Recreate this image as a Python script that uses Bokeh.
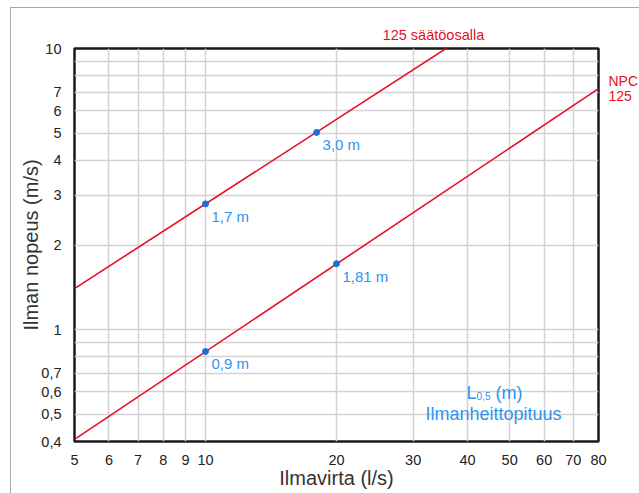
from bokeh.plotting import figure
from bokeh.models import FixedTicker, Label, LogAxis
from bokeh.core.properties import value
from bokeh.embed import file_html
from bokeh.resources import INLINE

# ---- data ----
x_ticks = [5, 6, 7, 8, 9, 10, 20, 30, 40, 50, 60, 70, 80]
x_tick_labels = ["5", "6", "7", "8", "9", "10", "20", "30", "40", "50", "60", "70", "80"]
y_ticks = [0.4, 0.5, 0.6, 0.7, 1, 2, 3, 4, 5, 6, 7, 10]
y_tick_labels = ["0,4", "0,5", "0,6", "0,7", "1", "2", "3", "4", "5", "6", "7", "10"]
y_grid = [0.4, 0.5, 0.6, 0.7, 0.8, 0.9, 1, 2, 3, 4, 5, 6, 7, 8, 9, 10]

upper_q = [5, 40]          # 125 säätöosalla
upper_v = [1.4, 11.2]
lower_q = [5, 80]          # NPC 125
lower_v = [0.407, 7.2]

upper_pts_q = [10, 18]
upper_pts_v = [2.8, 5.03]
upper_pts_lbl = ["1,7 m", "3,0 m"]
lower_pts_q = [10, 20]
lower_pts_v = [0.836, 1.716]
lower_pts_lbl = ["0,9 m", "1,81 m"]

upper_name = "125 säätöosalla"
upper_name_q = 33.4
lower_name = ["NPC", "125"]
lower_name_v = [7.68, 6.76]

RED = "#e50f25"
BLUE_T = "#2f93ee"
BLUE_P = "#1c6ed6"
FONT = "Liberation Sans"

p = figure(frame_width=524, frame_height=393,
           x_axis_type="log", y_axis_type="log",
           x_range=(5, 80), y_range=(0.4, 10),
           output_backend="svg", toolbar_location=None,
           min_border_left=63, min_border_right=37,
           min_border_top=40, min_border_bottom=52)
p.styles = {"border": "1px solid #a8a8a8", "border-bottom": "none",
            "margin-left": "10px", "margin-top": "7px"}

p.outline_line_color = "#1a1a1a"
p.outline_line_width = 2.5
p.background_fill_color = "white"
p.border_fill_color = "white"

bottom_ax = p.below[0]
left_ax = p.left[0]

bottom_ax.ticker = FixedTicker(ticks=x_ticks)
left_ax.ticker = FixedTicker(ticks=y_ticks)
bottom_ax.major_label_overrides = {t: l for t, l in zip(x_ticks, x_tick_labels)}
left_ax.major_label_overrides = {t: l for t, l in zip(y_ticks, y_tick_labels)}
p.xgrid.ticker = FixedTicker(ticks=x_ticks)
p.ygrid.ticker = FixedTicker(ticks=y_grid)
for g in (p.xgrid, p.ygrid):
    g.grid_line_color = "#d2d2d2"
    g.grid_line_width = 1.5

# line names as labels of extra (tick-less) axes outside the frame
top_ax = LogAxis(ticker=FixedTicker(ticks=[upper_name_q]),
                 major_label_overrides={upper_name_q: upper_name})
right_ax = LogAxis(ticker=FixedTicker(ticks=lower_name_v),
                   major_label_overrides={v: t for v, t in zip(lower_name_v, lower_name)})
p.add_layout(top_ax, "above")
p.add_layout(right_ax, "right")

for ax in (bottom_ax, left_ax, top_ax, right_ax):
    ax.axis_line_color = None
    ax.major_tick_line_color = None
    ax.minor_tick_line_color = None
    ax.major_label_text_font = FONT
    ax.major_label_text_font_size = "14.5px"
    ax.major_label_text_color = "#222222"
    ax.axis_label_text_font = FONT
    ax.axis_label_text_font_size = "20px"
    ax.axis_label_text_font_style = "normal"
    ax.axis_label_text_color = "#333333"

top_ax.major_label_text_color = RED
top_ax.major_label_text_font_size = "14.5px"
top_ax.major_label_standoff = 0
right_ax.major_label_text_color = RED
right_ax.major_label_text_font_size = "14px"
right_ax.major_label_standoff = 4

bottom_ax.axis_label = "Ilmavirta (l/s)"
left_ax.axis_label = "Ilman nopeus (m/s)"
bottom_ax.major_label_standoff = 7
left_ax.major_label_standoff = 7
bottom_ax.axis_label_standoff = -1
left_ax.axis_label_standoff = -4

p.line(upper_q, upper_v, line_color=RED, line_width=1.6)
p.line(lower_q, lower_v, line_color=RED, line_width=1.6)

for qs, vs, lbls in ((upper_pts_q, upper_pts_v, upper_pts_lbl),
                     (lower_pts_q, lower_pts_v, lower_pts_lbl)):
    p.scatter(qs, vs, size=6, color=BLUE_P)
    p.text(qs, vs, text=lbls, x_offset=6, y_offset=4,
           text_font=value(FONT), text_font_size="15px",
           text_color=BLUE_T, text_baseline="top", text_align="left")

p.add_layout(Label(x=39.8, y=0.593, text="L", text_font=FONT,
                   text_font_size="18px", text_color=BLUE_T, text_align="left",
                   text_baseline="alphabetic"))
p.add_layout(Label(x=41.96, y=0.583, text="0,5", text_font=FONT,
                   text_font_size="10px", text_color=BLUE_T, text_align="left",
                   text_baseline="alphabetic"))
p.add_layout(Label(x=46.4, y=0.593, text="(m)", text_font=FONT,
                   text_font_size="18px", text_color=BLUE_T, text_align="left",
                   text_baseline="alphabetic"))
p.add_layout(Label(x=45.9, y=0.503, text="Ilmanheittopituus", text_font=FONT,
                   text_font_size="18px", text_color=BLUE_T, text_align="center",
                   text_baseline="alphabetic"))

open("out.html", "w").write(file_html(p, INLINE))
